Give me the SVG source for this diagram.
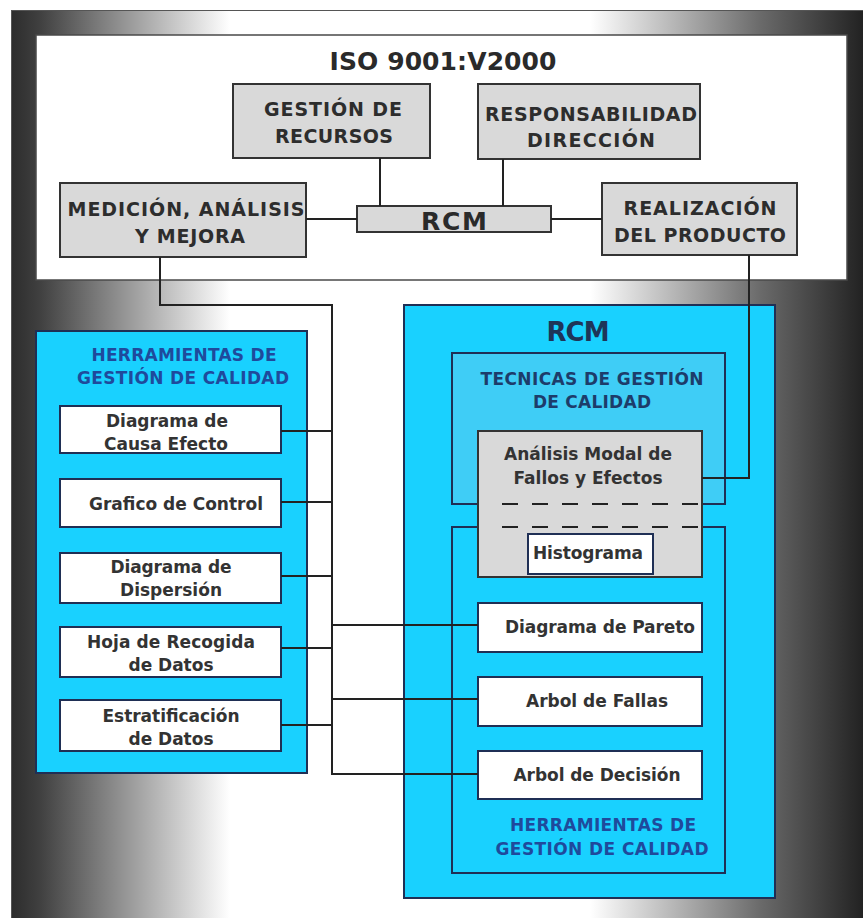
<svg xmlns="http://www.w3.org/2000/svg" width="863" height="918" viewBox="0 0 863 918">
  <defs>
    <linearGradient id="frameGrad" gradientUnits="userSpaceOnUse" x1="11" y1="0" x2="863" y2="0">
      <stop offset="0" stop-color="#2c2c2c"/>
      <stop offset="0.034" stop-color="#404040"/>
      <stop offset="0.257" stop-color="#ffffff"/>
      <stop offset="0.68" stop-color="#ffffff"/>
      <stop offset="0.88" stop-color="#6a6a6a"/>
      <stop offset="1" stop-color="#222222"/>
    </linearGradient>
  </defs>
  <style>
    text { font-family: "DejaVu Sans", Verdana, "Liberation Sans", sans-serif; font-weight: bold; text-anchor: middle; }
    .big { font-size: 25px; fill: #2a2a2a; }
    .top { font-size: 19px; fill: #2d2d2d; }
    .lbl { font-size: 17px; fill: #333333; }
    .ttl { font-size: 17px; fill: #1f4a9c; }
    .nav { font-size: 17px; fill: #1d3c6a; }
    .rcm { font-size: 26px; fill: #1e3558; }
    .gray { fill: #d9d9d9; stroke: #333333; stroke-width: 2; }
    .white { fill: #ffffff; stroke: #1f2f55; stroke-width: 2; }
    .panel { fill: #19d1ff; stroke: #1f2f55; stroke-width: 2; }
    .inner { fill: #3fcdf6; stroke: #1f2f55; stroke-width: 2; }
    .inner2 { fill: #19d1ff; stroke: #1f2f55; stroke-width: 2; }
    .wire { fill: none; stroke: #222222; stroke-width: 2; }
    .dash { fill: none; stroke: #222222; stroke-width: 2; stroke-dasharray: 16 14; }
  </style>

  <!-- frame and background -->
  <rect x="11" y="10" width="852" height="908" fill="url(#frameGrad)"/>
  <line x1="11" y1="10.5" x2="863" y2="10.5" stroke="#555" stroke-width="1"/>
  <line x1="11.5" y1="10" x2="11.5" y2="918" stroke="#555" stroke-width="1"/>

  <!-- ISO 9001 section -->
  <g id="iso">
    <rect x="36" y="35" width="811" height="245" fill="#ffffff" stroke="#4a4a4a" stroke-width="1.5"/>
    <text class="big" x="443" y="70" textLength="227">ISO 9001:V2000</text>
  </g>

  <g id="gestion-recursos">
    <rect class="gray" x="233" y="84" width="197" height="74"/>
    <text class="top" x="333" y="116" textLength="138">GESTIÓN DE</text>
    <text class="top" x="334" y="143" textLength="118">RECURSOS</text>
  </g>

  <g id="responsabilidad">
    <rect class="gray" x="478" y="84" width="222" height="75"/>
    <text class="top" x="591" y="121" textLength="212">RESPONSABILIDAD</text>
    <text class="top" x="591" y="147" textLength="128">DIRECCIÓN</text>
  </g>

  <g id="medicion">
    <rect class="gray" x="60" y="183" width="246" height="74"/>
    <text class="top" x="186" y="216" textLength="237">MEDICIÓN, ANÁLISIS</text>
    <text class="top" x="190" y="243" textLength="110">Y MEJORA</text>
  </g>

  <g id="rcm-bar">
    <rect class="gray" x="357" y="206" width="194" height="26"/>
    <text class="big" x="454" y="230" textLength="66">RCM</text>
  </g>

  <g id="realizacion">
    <rect class="gray" x="602" y="183" width="195" height="72"/>
    <text class="top" x="700" y="215" textLength="153">REALIZACIÓN</text>
    <text class="top" x="700" y="242" textLength="172">DEL PRODUCTO</text>
  </g>

  <!-- left panel: quality tools -->
  <g id="herramientas-izq">
    <rect class="panel" x="36" y="331" width="271" height="442"/>
    <text class="ttl" x="184" y="361" textLength="185">HERRAMIENTAS DE</text>
    <text class="ttl" x="183" y="384" textLength="212">GESTIÓN DE CALIDAD</text>
  </g>

  <g id="causa-efecto">
    <rect class="white" x="60" y="406" width="221" height="47"/>
    <text class="lbl" x="167" y="427" textLength="122">Diagrama de</text>
    <text class="lbl" x="166" y="450" textLength="124">Causa Efecto</text>
  </g>

  <g id="grafico-control">
    <rect class="white" x="60" y="479" width="221" height="48"/>
    <text class="lbl" x="176" y="510" textLength="174">Grafico de Control</text>
  </g>

  <g id="dispersion">
    <rect class="white" x="60" y="553" width="221" height="50"/>
    <text class="lbl" x="171" y="573" textLength="121">Diagrama de</text>
    <text class="lbl" x="171" y="596" textLength="102">Dispersión</text>
  </g>

  <g id="hoja-recogida">
    <rect class="white" x="60" y="627" width="221" height="50"/>
    <text class="lbl" x="171" y="648" textLength="168">Hoja de Recogida</text>
    <text class="lbl" x="171" y="671" textLength="85">de Datos</text>
  </g>

  <g id="estratificacion">
    <rect class="white" x="60" y="700" width="221" height="51"/>
    <text class="lbl" x="171" y="722" textLength="137">Estratificación</text>
    <text class="lbl" x="171" y="745" textLength="85">de Datos</text>
  </g>

  <!-- right panel: RCM -->
  <g id="rcm-panel">
    <rect class="panel" x="404" y="305" width="371" height="593"/>
    <text class="rcm" x="578" y="341" textLength="63">RCM</text>
  </g>

  <g id="tecnicas">
    <rect class="inner" x="452" y="353" width="273" height="151"/>
    <text class="nav" x="592" y="385" textLength="223">TECNICAS DE GESTIÓN</text>
    <text class="nav" x="592" y="408" textLength="118">DE CALIDAD</text>
  </g>

  <g id="herramientas-der">
    <rect class="inner2" x="452" y="527" width="273" height="346"/>
    <text class="ttl" x="603" y="831" textLength="186">HERRAMIENTAS DE</text>
    <text class="ttl" x="602" y="855" textLength="213">GESTIÓN DE CALIDAD</text>
  </g>

  <g id="amfe">
    <rect class="gray" x="478" y="431" width="224" height="146" stroke="#1f2f55"/>
    <text class="lbl" x="588" y="460" textLength="168">Análisis Modal de</text>
    <text class="lbl" x="588" y="484" textLength="149">Fallos y Efectos</text>
    <!-- group borders continuing behind the shared box -->
    <line class="dash" x1="502" y1="504" x2="702" y2="504"/>
    <line class="dash" x1="502" y1="527" x2="702" y2="527"/>
  </g>

  <g id="histograma">
    <rect class="white" x="528" y="534" width="125" height="40" stroke="#222"/>
    <text class="lbl" x="588" y="559" textLength="110">Histograma</text>
  </g>

  <g id="pareto">
    <rect class="white" x="478" y="603" width="224" height="49"/>
    <text class="lbl" x="600" y="633" textLength="190">Diagrama de Pareto</text>
  </g>

  <g id="arbol-fallas">
    <rect class="white" x="478" y="677" width="224" height="49"/>
    <text class="lbl" x="597" y="707" textLength="142">Arbol de Fallas</text>
  </g>

  <g id="arbol-decision">
    <rect class="white" x="478" y="751" width="224" height="48"/>
    <text class="lbl" x="597" y="781" textLength="167">Arbol de Decisión</text>
  </g>

  <!-- connectors -->
  <g id="connectors">
    <line class="wire" x1="380" y1="158" x2="380" y2="206"/>
    <line class="wire" x1="503" y1="159" x2="503" y2="206"/>
    <line class="wire" x1="306" y1="219" x2="357" y2="219"/>
    <line class="wire" x1="551" y1="219" x2="602" y2="219"/>
    <polyline class="wire" points="160,257 160,305 332,305 332,774"/>
    <line class="wire" x1="281" y1="431" x2="332" y2="431"/>
    <line class="wire" x1="281" y1="502" x2="332" y2="502"/>
    <line class="wire" x1="281" y1="576" x2="332" y2="576"/>
    <line class="wire" x1="281" y1="648" x2="332" y2="648"/>
    <line class="wire" x1="281" y1="725" x2="332" y2="725"/>
    <line class="wire" x1="332" y1="625" x2="478" y2="625"/>
    <line class="wire" x1="332" y1="699" x2="478" y2="699"/>
    <line class="wire" x1="331" y1="774" x2="478" y2="774"/>
    <polyline class="wire" points="749,255 749,478 702,478"/>
  </g>
</svg>
